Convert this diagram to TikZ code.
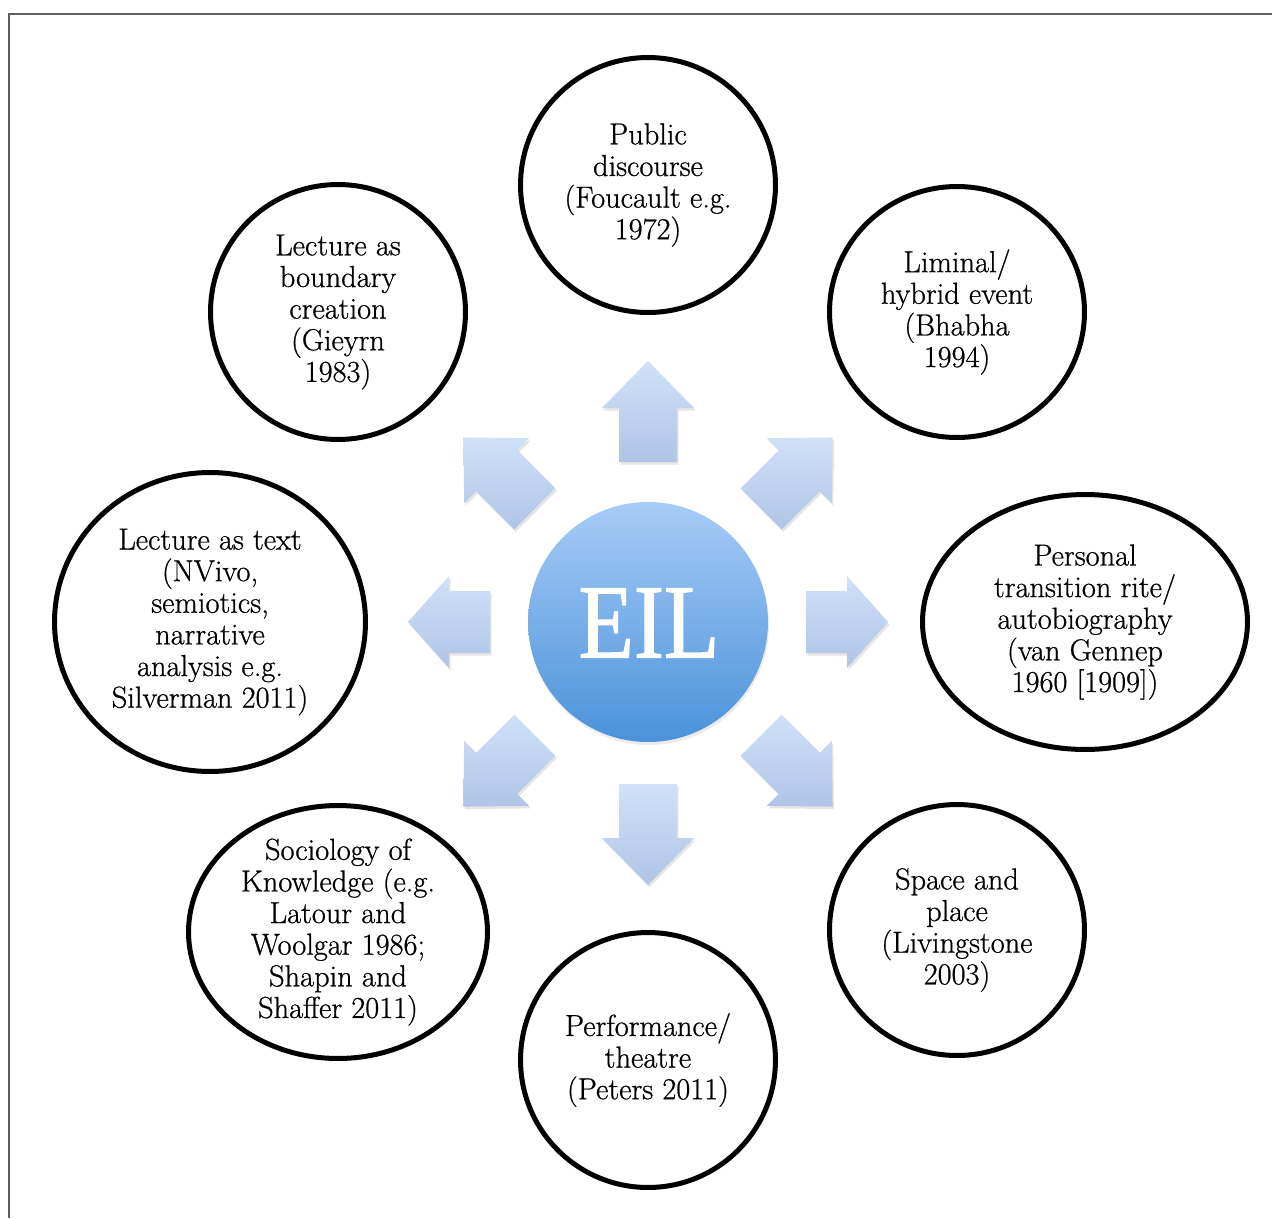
\documentclass[tikz,border=0pt]{standalone}
\usepackage{fontspec}
\newfontfamily\eilfont{Liberation Serif}[FakeBold=1.2]
\newfontfamily\circfont{Latin Modern Roman}[FakeBold=0.7]
\usetikzlibrary{shapes.geometric}
\definecolor{arrTop}{RGB}{208,225,248}
\definecolor{arrBot}{RGB}{176,196,230}
\definecolor{eilTop}{RGB}{168,204,247}
\definecolor{eilBot}{RGB}{74,146,218}
\definecolor{frameGray}{RGB}{95,95,95}
\tikzset{
  ring/.style={draw=black, line width=0.1cm, ellipse, inner sep=0pt, fill=white},
  lbl/.style={align=center, font=\circfont\fontsize{17.3}{18}\selectfont, inner sep=0pt},
  blockarrow/.style={top color=arrTop, bottom color=arrBot, draw=none},
  arrshadow/.style={fill=black, opacity=0.10},
  framestyle/.style={draw=frameGray, line width=0.045cm},
}
% #1 angle, #2 start radius, #3 length, #4 head length, #5 shaft half width, #6 head half width
\newcommand{\fatarrowpath}[6]{(#2,-#5) -- ({#2+#3-#4},-#5) -- ({#2+#3-#4},-#6) -- ({#2+#3},0) -- ({#2+#3-#4},#6) -- ({#2+#3-#4},#5) -- (#2,#5) -- cycle}
\newcommand{\fatarrow}[6]{%
  \begin{scope}[shift={(649.5,624.5)}, rotate=#1]
    \fill[arrshadow] \fatarrowpath{#1}{#2}{#3}{#4}{#5}{#6};
  \end{scope}
  \begin{scope}[shift={(648,622)}, rotate=#1]
    \path[blockarrow] \fatarrowpath{#1}{#2}{#3}{#4}{#5}{#6};
  \end{scope}}
\begin{document}
\begin{tikzpicture}[x=0.02cm, y=-0.02cm]
\useasboundingbox (0,0) rectangle (1272,1218);
\fill[white] (0,0) rectangle (1272,1218);
% frame
\coordinate (fBL) at (9,1218);
\coordinate (fTL) at (9,14);
\coordinate (fTR) at (1272,14);
\draw[framestyle] (fBL) -- (fTL) -- (fTR);

% block arrows
\fatarrow{90}{160}{101}{47}{29}{46}
\fatarrow{45}{160}{101}{47}{29}{46}
\fatarrow{135}{160}{101}{47}{29}{46}
\fatarrow{-45}{160}{101}{47}{29}{46}
\fatarrow{-135}{160}{101}{47}{29}{46}
\fatarrow{-90}{162}{101}{47}{29}{46}
\fatarrow{0}{158}{82}{41}{31}{46}
\fatarrow{180}{158}{82}{41}{31}{46}

% centre
\node[circle, fill=black, opacity=0.08, minimum size=4.8cm, inner sep=0pt] (eilS) at (649,625) {};
\node[circle, top color=eilTop, bottom color=eilBot, draw=none, minimum size=4.8cm, inner sep=0pt] (eil) at (648,622) {};
\node[text=white, inner sep=0pt, xscale=0.86, font=\eilfont\fontsize{60}{60}\selectfont] (eilT) at (649,623) {EIL};

% outer circles
\node[ring, minimum width=5.1cm, minimum height=5.1cm] (pub) at (648,185) {};
\node[lbl] (pubT) at (pub) {Public\\discourse\\(Foucault e.g.\\1972)};

\node[ring, minimum width=5.1cm, minimum height=5.02cm] (lim) at (957,312) {};
\node[lbl] (limT) at (lim) {Liminal/\\hybrid event\\(Bhabha\\1994)};

\node[ring, minimum width=6.5cm, minimum height=5.1cm] (pers) at (1085,622) {};
\node[lbl] (persT) at (pers) {Personal\\transition rite/\\autobiography\\(van Gennep\\1960 [1909])};

\node[ring, minimum width=5.1cm, minimum height=5.02cm] (space) at (957,930) {};
\node[lbl] (spaceT) at (space) {Space and\\place\\(Livingstone\\2003)};

\node[ring, minimum width=5.1cm, minimum height=5.1cm] (perf) at (648,1060) {};
\node[lbl] (perfT) at (perf) {Performance/\\theatre\\(Peters 2011)};

\node[ring, minimum width=5.98cm, minimum height=5.06cm] (soc) at (338,932) {};
\node[lbl] (socT) at (soc) {Sociology of\\Knowledge (e.g.\\Latour and\\Woolgar 1986;\\Shapin and\\Shaffer 2011)};

\node[ring, minimum width=6.22cm, minimum height=5.98cm] (ltext) at (210,622) {};
\node[lbl] (ltextT) at (ltext) {Lecture as text\\(NVivo,\\semiotics,\\narrative\\analysis e.g.\\Silverman 2011)};

\node[ring, minimum width=5.1cm, minimum height=5.1cm] (bound) at (338,312) {};
\node[lbl] (boundT) at (bound) {Lecture as\\boundary\\creation\\(Gieyrn\\1983)};
\end{tikzpicture}
\end{document}
